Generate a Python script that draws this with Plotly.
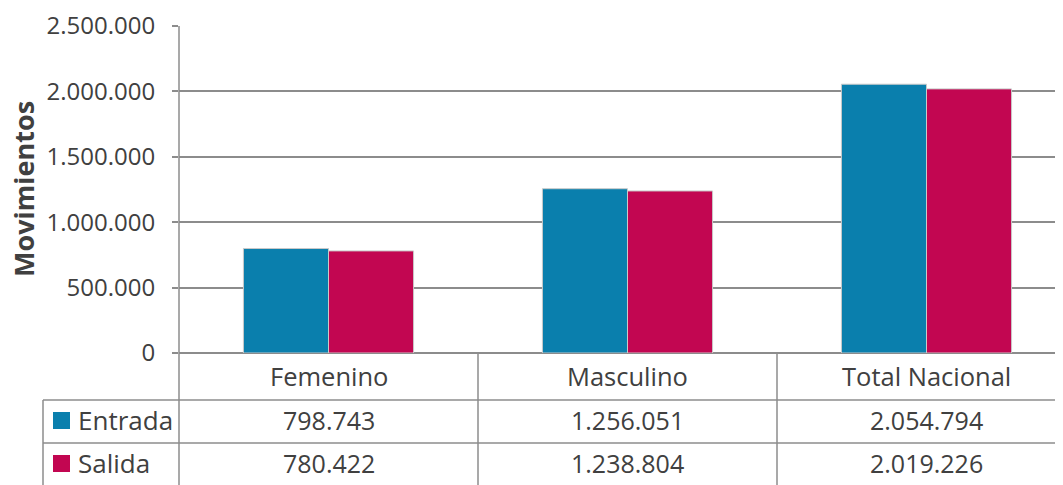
import plotly.graph_objects as go

categories = ["Femenino", "Masculino", "Total Nacional"]
series_names = ["Entrada", "Salida"]
entrada = [798743, 1256051, 2054794]
salida = [780422, 1238804, 2019226]
y_ticks = [0, 500000, 1000000, 1500000, 2000000, 2500000]

colors = ["#0a7fad", "#c20651"]
text_color = "#404040"
grid_color = "#8c8c8c"
FONT = "Open Sans"

# page offset (body margin) compensation
OFF = 8
W, H = 1063 - OFF, 485 - OFF
L, T, R, B = 179 - OFF, 26 - OFF, 0, 132
plot_w = W - L - R
plot_h = H - T - B
cat_px = 299
x_min = -0.5
x_max = x_min + plot_w / cat_px


def px_x(p):
    return (p - OFF - L) / plot_w


def px_y(p):
    return (H - B - (p - OFF)) / plot_h


def data_x(v):
    return (v - x_min) / (x_max - x_min)


def fmt(v):
    return f"{v:,}".replace(",", ".")


fig = go.Figure()
for name, vals, col in zip(series_names, [entrada, salida], colors):
    fig.add_trace(go.Bar(
        x=list(range(len(categories))), y=vals, name=name,
        marker=dict(color=col, line=dict(color="#c9c9c9", width=1)),
        showlegend=False, hoverinfo="y",
    ))

shapes = []
line = dict(color=grid_color, width=1.5)
# table horizontal lines
for yp in [400, 443]:
    shapes.append(dict(type="line", xref="paper", yref="paper",
                       x0=px_x(43), x1=1, y0=px_y(yp), y1=px_y(yp), line=line))
# left table border
shapes.append(dict(type="line", xref="paper", yref="paper",
                   x0=px_x(43), x1=px_x(43), y0=px_y(400), y1=px_y(500), line=line))
# axis line down through table
shapes.append(dict(type="line", xref="paper", yref="paper",
                   x0=0, x1=0, y0=1, y1=px_y(500), line=line))
# category boundaries
for i in range(len(categories) - 1):
    xb = data_x(i + 0.5)
    shapes.append(dict(type="line", xref="paper", yref="paper",
                       x0=xb, x1=xb, y0=0, y1=px_y(500), line=line))

annotations = []
for i, c in enumerate(categories):
    annotations.append(dict(x=i, xref="x", y=px_y(376), yref="paper", text=c,
                            showarrow=False, font=dict(family=FONT, size=25.5, color=text_color),
                            xanchor="center", yanchor="middle"))
row_y = [420, 463]
for r, (name, vals, col) in enumerate(zip(series_names, [entrada, salida], colors)):
    yc = row_y[r]
    shapes.append(dict(type="rect", xref="paper", yref="paper",
                       x0=px_x(53), x1=px_x(70), y0=px_y(yc - 8), y1=px_y(yc + 9),
                       fillcolor=col, line=dict(width=0)))
    annotations.append(dict(x=px_x(76), xref="paper", y=px_y(yc), yref="paper", text=name,
                            showarrow=False, font=dict(family=FONT, size=26, color=text_color),
                            xanchor="left", yanchor="middle"))
    for i, v in enumerate(vals):
        annotations.append(dict(x=i, xref="x", y=px_y(yc), yref="paper", text=fmt(v),
                                showarrow=False, font=dict(family=FONT, size=25, color=text_color),
                                xanchor="center", yanchor="middle"))

annotations.append(dict(x=px_x(23), xref="paper", y=px_y(189), yref="paper", text="<b>Movimientos</b>",
                        textangle=-90, showarrow=False,
                        font=dict(family=FONT, size=27, color=text_color),
                        xanchor="center", yanchor="middle"))

fig.update_layout(
    width=W, height=H,
    margin=dict(l=L, r=R, t=T, b=B, pad=0),
    paper_bgcolor="white", plot_bgcolor="white",
    barmode="group", bargap=0.431, bargroupgap=0,
    separators=",.",
    font=dict(family=FONT, color=text_color),
    xaxis=dict(range=[x_min, x_max], showticklabels=False, showgrid=False,
               zeroline=False, showline=False, ticks="", fixedrange=True),
    yaxis=dict(range=[0, 2500000], tickvals=y_ticks, tickformat=",d",
               showgrid=True, gridcolor=grid_color, gridwidth=1.5,
               zeroline=True, zerolinecolor=grid_color, zerolinewidth=1.5,
               showline=False, ticks="outside", ticklen=6, tickcolor=grid_color,
               tickwidth=1.5, tickfont=dict(family=FONT, size=24, color=text_color),
               ticklabelstandoff=12, fixedrange=True),
    shapes=shapes, annotations=annotations,
)

fig.write_html("out.html")
